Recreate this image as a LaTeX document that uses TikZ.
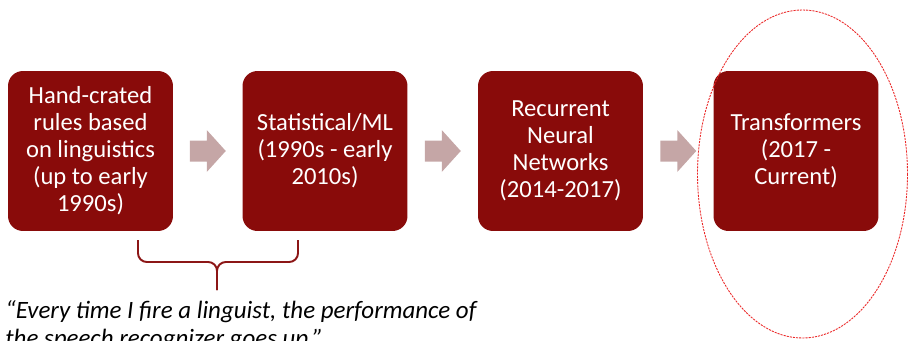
\documentclass[tikz,border=0pt]{standalone}
\usepackage{fontspec}
\setmainfont{Carlito}
\usetikzlibrary{calc}
\definecolor{boxred}{RGB}{137,11,10}
\definecolor{arrowpink}{RGB}{197,166,166}
\definecolor{bracered}{RGB}{140,22,22}
\definecolor{ringred}{RGB}{235,40,40}
\begin{document}
\begin{tikzpicture}[x=0.02cm,y=-0.02cm,
  stage/.style={fill=boxred, draw=none, rounded corners=8.5pt,
    minimum width=3.3cm, minimum height=3.2cm, inner sep=2pt,
    text=white, align=center, font=\fontsize{14}{15.4}\selectfont},
  blockarrow/.style={fill=arrowpink, draw=none},
  brace/.style={draw=bracered, line width=1.1pt, rounded corners=5pt},
  ring/.style={draw=ringred, line width=0.5pt, dash pattern=on 1.2pt off 0.6pt}]
\useasboundingbox (0,0) rectangle (909,341);

% the four stages
\node[stage] (b1) at (90.5,151) {Hand-crated\\rules based\\on linguistics\\(up to early\\1990s)};
\node[stage] (b2) at (325,151) {Statistical/ML\\(1990s - early\\2010s)};
\node[stage] (b3) at (560.5,151) {Recurrent\\Neural\\Networks\\(2014-2017)};
\node[stage] (b4) at (796,151) {Transformers\\(2017 -\\Current)};

% block arrows between the stages
\foreach \a/\b/\m in {b1/b2/m1, b2/b3/m2, b3/b4/m3}{
  \coordinate (\m) at ($(\a.east)!0.5!(\b.west)$);
  \fill[blockarrow] ($(\m)+(-18,-10.5)$) -- ++(17,0) -- ++(0,-10.5)
    -- ($(\m)+(18,0)$) -- ($(\m)+(-1,21)$) -- ++(0,-10.5) -- ++(-17,0) -- cycle;
}

% brace under the first two stages
\coordinate (tip) at (217,290);
\draw[brace] (138,240) -- (138,262) -- (217,262) -- (tip);
\draw[brace] (298,240) -- (298,262) -- (217,262) -- (tip);

% quotation (base anchor sits on the last line)
\node[anchor=base west, inner sep=0pt, align=left,
  font=\itshape\fontsize{14.2}{15.4}\selectfont] (quote) at (5,346)
  {“Every time I fire a linguist, the performance of\\the speech recognizer goes up.”};

% highlight ring around the last stage
\draw[ring] (802.5,174) ellipse [x radius=105, y radius=164];
\end{tikzpicture}
\end{document}
